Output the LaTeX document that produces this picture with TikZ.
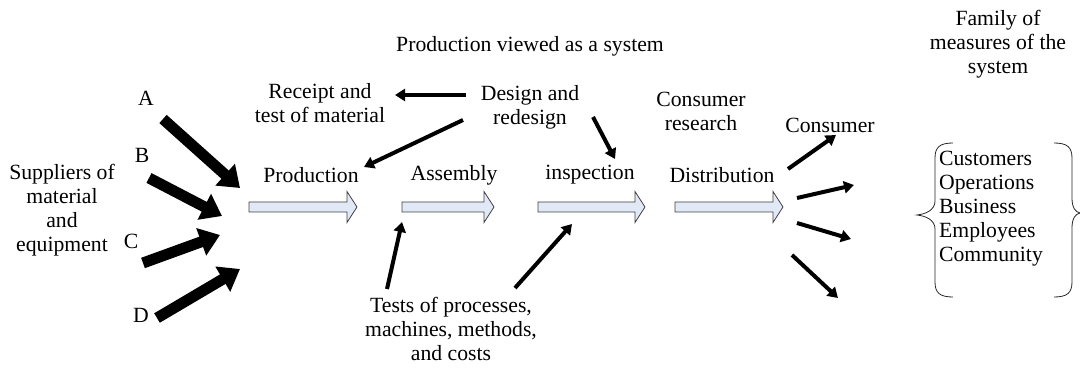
\documentclass[tikz,border=0pt]{standalone}
\usepackage{fontspec}
\setmainfont{Liberation Serif}
\usetikzlibrary{arrows.meta}
\definecolor{blockfill}{HTML}{E2E9F6}
\begin{document}
\begin{tikzpicture}[x=1pt,y=-1pt,
  lbl/.style={font=\fontsize{21.7}{24}\selectfont, align=center, inner sep=0pt},
  flow/.style={draw=black!75, fill=blockfill, line width=0.8pt, line join=miter},
  feed/.style={line width=11pt, -{Triangle[length=20pt,width=28pt]}},
  link/.style={line width=4pt, -{Triangle[length=10pt,width=12pt]}},
  brace/.style={line width=0.8pt, black!85}
]
\useasboundingbox (0,0) rectangle (1080,377);

% hollow block arrow from x=#1 to tip x=#2 on the line y=207
\newcommand\blockarrow[2]{%
  \draw[flow] (#1,202) -- ({#2-10},202) -- ({#2-10},191.5) -- (#2,207)
    -- ({#2-10},222.5) -- ({#2-10},212) -- (#1,212) -- cycle;}

% titles
\node[lbl] (title) at (530,46) {Production viewed as a system};
\node[lbl] (family) at (998,44) {Family of\\measures of the\\system};

% suppliers and their four inputs
\node[lbl] (suppliers) at (62,210) {Suppliers of\\material\\and\\equipment};
\node[lbl] (la) at (146,98) {A};
\node[lbl] (lb) at (142,155) {B};
\node[lbl] (lc) at (131,241) {C};
\node[lbl] (ld) at (141,315) {D};

\coordinate (a0) at (163,119);  \coordinate (a1) at (240,188);
\coordinate (b0) at (149,178);  \coordinate (b1) at (222,216);
\coordinate (c0) at (143,263);  \coordinate (c1) at (220,235);
\coordinate (d0) at (157,318);  \coordinate (d1) at (240,269);
\draw[feed] (a0) -- (a1);
\draw[feed] (b0) -- (b1);
\draw[feed] (c0) -- (c1);
\draw[feed] (d0) -- (d1);

% stages of production
\node[lbl] (production) at (311,175) {Production};
\node[lbl] (assembly) at (454,175) {Assembly};
\node[lbl] (inspection) at (590,175) {inspection};
\node[lbl] (distribution) at (722,175) {Distribution};

\blockarrow{249}{357}
\blockarrow{402}{494}
\blockarrow{538}{645}
\blockarrow{675}{783}

% design feedback
\node[lbl] (receipt) at (320,103) {Receipt and\\test of material};
\node[lbl] (design) at (530,107) {Design and\\redesign};
\node[lbl] (research) at (701,111) {Consumer\\research};
\node[lbl] (consumer) at (830,125) {Consumer};

\coordinate (dr0) at (466,95);  \coordinate (dr1) at (395,95);
\coordinate (dp0) at (463,120); \coordinate (dp1) at (364,167);
\coordinate (di0) at (593,117); \coordinate (di1) at (615,159);
\draw[link] (dr0) -- (dr1);
\draw[link] (dp0) -- (dp1);
\draw[link] (di0) -- (di1);

% tests feeding the line
\node[lbl] (tests) at (451,329) {Tests of processes,\\machines, methods,\\and costs};
\coordinate (t10) at (387,289); \coordinate (t11) at (402,222);
\coordinate (t20) at (515,288); \coordinate (t21) at (572,224);
\draw[link] (t10) -- (t11);
\draw[link] (t20) -- (t21);

% distribution fan-out
\coordinate (f10) at (788,169); \coordinate (f11) at (836,135);
\coordinate (f20) at (797,198); \coordinate (f21) at (854,185);
\coordinate (f30) at (797,223); \coordinate (f31) at (851,239);
\coordinate (f40) at (792,255); \coordinate (f41) at (838,298);
\draw[link] (f10) -- (f11);
\draw[link] (f20) -- (f21);
\draw[link] (f30) -- (f31);
\draw[link] (f40) -- (f41);

% family of measures in braces
\node[lbl, align=left] (measures) at (991,209)
  {Customers\\Operations\\Business\\Employees\\Community};
\draw[brace] (953,143) .. controls (940,143) and (935,147) .. (935,158)
  -- (935,201) .. controls (935,210) and (926,214) .. (917,215)
  .. controls (926,216) and (935,220) .. (935,229)
  -- (935,282) .. controls (935,293) and (940,297) .. (953,297);
\draw[brace] (1054,143) .. controls (1067,143) and (1072,147) .. (1072,158)
  -- (1072,198) .. controls (1072,207) and (1075,212) .. (1080,213)
  .. controls (1075,214) and (1072,219) .. (1072,228)
  -- (1072,282) .. controls (1072,293) and (1067,297) .. (1054,297);
\end{tikzpicture}
\end{document}
